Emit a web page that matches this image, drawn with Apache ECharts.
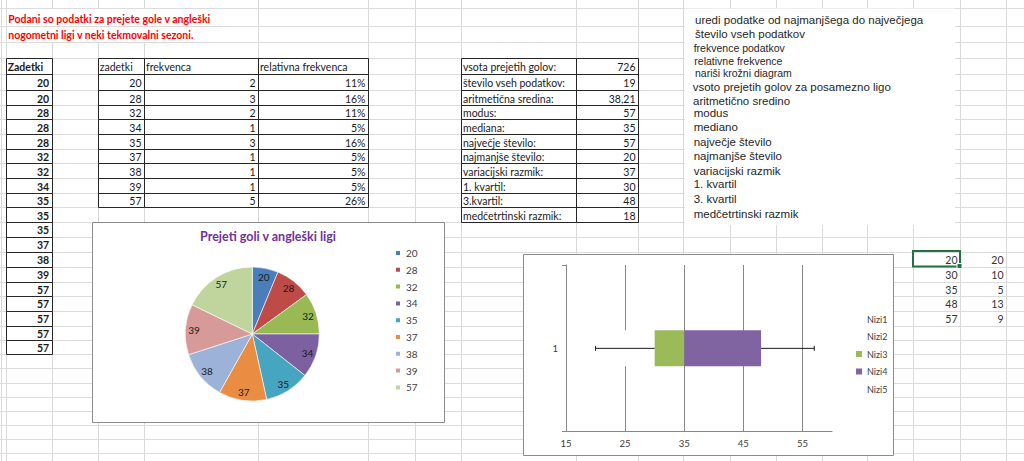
<!DOCTYPE html>
<html>
<head>
<meta charset="utf-8">
<script src="https://cdn.jsdelivr.net/npm/echarts@6/dist/echarts.min.js"></script>
<style>
html, body { margin: 0; padding: 0; background: #fff; }
#main { width: 1024px; height: 461px; }
</style>
</head>
<body>
<div id="main"></div>
<script>
// podatki z lista
var zadetki = [20, 20, 28, 28, 28, 32, 32, 34, 35, 35, 35, 37, 38, 39, 57, 57, 57, 57, 57];
var vrednosti = ['20', '28', '32', '34', '35', '37', '38', '39', '57'];
var frekvence = [2, 3, 2, 1, 3, 1, 1, 1, 5];
var relFrekvence = ['11%', '16%', '11%', '5%', '16%', '5%', '5%', '5%', '26%'];
var statOznake = ['vsota prejetih golov:', 'število vseh podatkov:', 'aritmetična sredina:', 'modus:', 'mediana:',
  'največje število:', 'najmanjše število:', 'variacijski razmik:', '1. kvartil:', '3.kvartil:', 'medčetrtinski razmik:'];
var statVrednosti = ['726', '19', '38,21', '57', '35', '57', '20', '37', '30', '48', '18'];
var navodila = ['uredi podatke od najmanjšega do največjega', 'število vseh podatkov', 'frekvence podatkov',
  'relativne frekvence', 'nariši krožni diagram', 'vsoto prejetih golov za posamezno ligo', 'aritmetično sredino',
  'modus', 'mediano', 'največje število', 'najmanjše število', 'variacijski razmik', '1. kvartil', '3. kvartil',
  'medčetrtinski razmik'];
// krožni diagram
var pieVrednosti = [20, 28, 32, 34, 35, 37, 38, 39, 57];
// škatla z brki
var skatlaMeje = [20, 30, 35, 48, 57];
var skatlaDeli = [20, 10, 5, 13, 9];
var nizi = ['Nizi1', 'Nizi2', 'Nizi3', 'Nizi4', 'Nizi5'];
var osXOznake = [15, 25, 35, 45, 55];

// barve
var pieBarve = ['#4a7ebb', '#be4b48', '#98b954', '#7d60a0', '#46a5c1', '#e98d43', '#9cb2d8', '#d69a99', '#c0d59d'];
var niziBarve = ['#ffffff', '#ffffff', '#9bbb59', '#8064a2', 'rgba(0,0,0,0)'];

// mreza lista (px)
var colX = [0.5, 5.7, 51.7, 97.7, 144, 258, 368, 415, 461, 576, 638, 683.3, 730, 775.7, 821.7, 867.3, 913.3, 960, 1006];
var rowY = [8.3, 26, 41.7, 58.3, 74, 90, 105, 119.3, 134, 149, 163.3, 178.3, 192.7, 207.3, 221.7, 236.7, 251.7,
  266.7, 281.7, 296, 310.7, 325.7, 340, 354.3, 368.3, 382.7, 396.7, 411, 425, 439.3, 452.7];
var FONT = 'Lato, "Open Sans", sans-serif';

function px(v) { return Math.round(v) + 0.5; }

var g = [];
function crta(x1, y1, x2, y2, barva, z) {
  g.push({ type: 'line', z: z, silent: true, shape: { x1: x1, y1: y1, x2: x2, y2: y2 },
    style: { stroke: barva, lineWidth: 1 } });
}
function okvir(x, y, w, h, polnilo, rob, z, debelina) {
  g.push({ type: 'rect', z: z, silent: true, shape: { x: x, y: y, width: w, height: h },
    style: { fill: polnilo, stroke: rob, lineWidth: debelina || 1 } });
}
function besedilo(x, y, str, o) {
  o = o || {};
  g.push({ type: 'text', z: 1, silent: true, x: x, y: y,
    style: { text: str, fill: o.barva || '#1a1a1a', fontSize: o.size || 10.5, fontFamily: o.font || FONT,
      fontWeight: o.bold ? 'bold' : 'normal', align: o.align || 'left', textAlign: o.align || 'left',
      verticalAlign: 'middle', textVerticalAlign: 'middle' } });
}
// celica: stolpec c (med colX[c] in colX[c+1]), vrstica r
function celica(c, r, str, o) {
  o = o || {};
  var yc = (rowY[r] + rowY[r + 1]) / 2 + 1;
  if (o.align === 'right') besedilo(colX[c + 1] - 2.5, yc, str, o);
  else besedilo(colX[c] + 2, yc, str, o);
  if (o.rob) okvir(px(colX[c]), px(rowY[r]), Math.round(colX[c + 1]) - Math.round(colX[c]),
    Math.round(rowY[r + 1]) - Math.round(rowY[r]), 'none', '#262626', 0);
}

// mreza
colX.forEach(function (x, i) {
  if (i >= 2 && i <= 4) {
    crta(px(x), 0, px(x), px(rowY[0]), '#d9d9d9', -2);
    crta(px(x), px(rowY[2]), px(x), 461, '#d9d9d9', -2);
  } else {
    crta(px(x), 0, px(x), 461, '#d9d9d9', -2);
  }
});
rowY.forEach(function (y) { crta(0, px(y), 1024, px(y), '#dcdcdc', -2); });

// bele podlage (besedilno polje, grafikona)
okvir(685, 8.5, 270, 216.5, '#ffffff', 'none', -1);
okvir(px(91.7), px(221.7), 352, 200, '#ffffff', '#8c8c8c', -1);
okvir(px(523.3), px(254.3), 370, 201, '#ffffff', '#8c8c8c', -1);

// naslov v rdecem
besedilo(8.3, 18.5, 'Podani so podatki za prejete gole v angleški', { barva: '#ff0000', bold: true });
besedilo(8.3, 35, 'nogometni ligi v neki tekmovalni sezoni.', { barva: '#ff0000', bold: true });

// tabela Zadetki
celica(1, 3, 'Zadetki', { bold: true, rob: true });
zadetki.forEach(function (v, i) { celica(1, 4 + i, String(v), { bold: true, align: 'right', rob: true }); });

// tabela frekvenc
celica(3, 3, 'zadetki', { rob: true });
celica(4, 3, 'frekvenca', { rob: true });
celica(5, 3, 'relativna frekvenca', { rob: true });
vrednosti.forEach(function (v, i) {
  celica(3, 4 + i, v, { align: 'right', rob: true });
  celica(4, 4 + i, String(frekvence[i]), { align: 'right', rob: true });
  celica(5, 4 + i, relFrekvence[i], { align: 'right', rob: true });
});

// statistika
statOznake.forEach(function (t, i) {
  celica(8, 3 + i, t, { rob: true });
  celica(9, 3 + i, statVrednosti[i], { align: 'right', rob: true });
});

// pomozna tabela za skatlo
skatlaMeje.forEach(function (v, i) {
  celica(16, 16 + i, String(v), { align: 'right', barva: '#333' });
  celica(17, 16 + i, String(skatlaDeli[i]), { align: 'right', barva: '#333' });
});
okvir(913, 251, 47, 15.5, 'none', '#217346', 2, 2);
okvir(957, 263.5, 5, 5, '#217346', '#ffffff', 2, 1);

// navodila
var navY = [20, 33.7, 47.7, 61, 73.3, 87.3, 100.7, 113.3, 127, 142.3, 156.3, 171, 184.3, 199, 214.3];
var navX = [695, 695, 693.7, 694.3, 695, 692.7, 693, 693.7, 693.7, 693.7, 693.7, 693.7, 693.7, 693.7, 693.7];
navodila.forEach(function (t, i) {
  besedilo(navX[i], navY[i], t, { font: '"Liberation Sans", Arial, sans-serif', size: (i >= 2 && i <= 4) ? 10.5 : 11.5, barva: '#262626' });
});

var chart = echarts.init(document.getElementById('main'), null, { renderer: 'svg' });

var option = {
  animation: false,
  title: {
    text: 'Prejeti goli v angleški ligi',
    left: 268, top: 230, textAlign: 'center', padding: 0,
    textStyle: { color: '#7030a0', fontSize: 12.5, fontWeight: 'bold', fontFamily: FONT }
  },
  legend: [{
    data: vrednosti, orient: 'vertical', left: 394, top: 247, padding: 0,
    icon: 'rect', itemWidth: 6, itemHeight: 6, itemGap: 4.8, selectedMode: false,
    textStyle: { fontSize: 10, lineHeight: 12, color: '#404040', fontFamily: FONT }
  }, {
    data: nizi, orient: 'vertical', left: 856, top: 313, padding: 0,
    icon: 'rect', itemWidth: 6, itemHeight: 6, itemGap: 5.5, selectedMode: false,
    textStyle: { fontSize: 9, lineHeight: 12, color: '#404040', fontFamily: FONT }
  }],
  graphic: { elements: g },
  grid: { left: 566, top: 265, width: 266, height: 166.7 },
  xAxis: {
    type: 'value', min: osXOznake[0], max: 60, interval: osXOznake[1] - osXOznake[0],
    axisLine: { show: true, lineStyle: { color: '#868686' } },
    axisTick: { show: false },
    axisLabel: { margin: 7, fontSize: 9.5, color: '#404040', fontFamily: FONT, showMaxLabel: false },
    splitLine: { show: true, showMinLine: false, showMaxLine: false, lineStyle: { color: '#868686' } }
  },
  yAxis: {
    type: 'category', data: ['1'], z: 3,
    axisLine: { show: true, lineStyle: { color: '#868686' } },
    axisTick: { show: true, length: 4, lineStyle: { color: '#868686' } },
    axisLabel: { margin: 8, fontSize: 9.5, color: '#404040', fontFamily: FONT },
    splitLine: { show: false }
  },
  series: [{
    name: 'Prejeti goli', type: 'pie', center: [252.3, 334], radius: 67, z: 2,
    label: { show: false }, labelLine: { show: false },
    emphasis: { disabled: true },
    itemStyle: { borderColor: '#ffffff', borderWidth: 0.6 },
    data: pieVrednosti.map(function (v, i) {
      return { name: vrednosti[i], value: v, itemStyle: { color: pieBarve[i] } };
    })
  }, {
    name: 'oznake', type: 'pie', center: [252.3, 334], radius: [44, 67], z: 3, silent: true,
    emphasis: { disabled: true },
    itemStyle: { color: 'rgba(0,0,0,0)', borderWidth: 0 },
    label: { show: true, position: 'inside', color: '#1a1a1a', fontSize: 10, fontFamily: FONT },
    labelLine: { show: false },
    data: pieVrednosti.map(function (v, i) { return { name: vrednosti[i], value: v }; })
  }].concat(nizi.map(function (ime, i) {
    return {
      name: ime, type: 'bar', stack: 'skatla', barWidth: 36, z: 2,
      emphasis: { disabled: true },
      itemStyle: { color: niziBarve[i] },
      data: [skatlaDeli[i]]
    };
  })).concat([{
    name: 'brki', type: 'custom', z: 4, silent: true,
    encode: { y: 0, x: [1, 2, 3, 4] },
    data: [[0, skatlaMeje[0], skatlaMeje[1], skatlaMeje[3], skatlaMeje[4]]],
    renderItem: function (params, api) {
      var c = api.value(0);
      var yc = api.coord([api.value(1), c])[1];
      var a = api.coord([api.value(1), c])[0];
      var b = api.coord([api.value(2), c])[0];
      var d = api.coord([api.value(3), c])[0];
      var e = api.coord([api.value(4), c])[0];
      var s = { stroke: '#1a1a1a', lineWidth: 1 };
      var cap = 2.5;
      return {
        type: 'group', children: [
          { type: 'line', shape: { x1: a, y1: yc, x2: b, y2: yc }, style: s },
          { type: 'line', shape: { x1: a, y1: yc - cap, x2: a, y2: yc + cap }, style: s },
          { type: 'line', shape: { x1: d, y1: yc, x2: e, y2: yc }, style: s },
          { type: 'line', shape: { x1: e, y1: yc - cap, x2: e, y2: yc + cap }, style: s }
        ]
      };
    }
  }])
};

chart.setOption(option);
</script>
</body>
</html>
